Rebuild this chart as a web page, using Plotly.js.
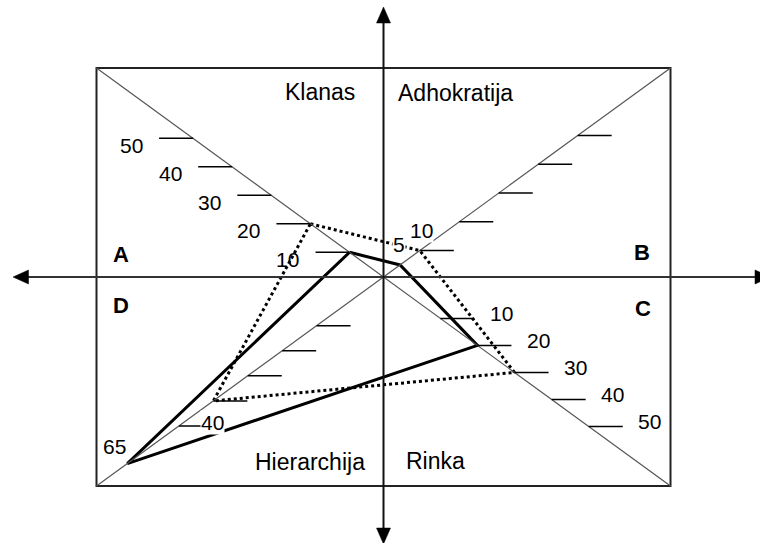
<!DOCTYPE html>
<html>
<head>
<meta charset="utf-8">
<script src="https://cdn.plot.ly/plotly-3.0.1.min.js"></script>
<style>
  html, body { margin: 0; padding: 0; background: #fff; }
  #chart { width: 760px; height: 543px; }
</style>
</head>
<body>
<div id="chart"></div>
<script>
// Organisational culture profile on the competing-values frame:
// each culture type sits on one half-diagonal, two profiles are compared.
const quadrants = ['Klanas', 'Adhokratija', 'Rinka', 'Hierarchija'];
const solidProfile = [10, 5, 20, 65];
const dottedProfile = [20, 10, 30, 40];
const tickValues = [10, 20, 30, 40, 50];
const tickLabels = ['10', '20', '30', '40', '50'];
const cornerLetters = ['A', 'B', 'C', 'D'];

// Frame geometry: one plot unit = one pixel, origin where the two axes cross.
const HW = 287, HH = 209;
// Every half-diagonal has its own scale: position t = start + step * value (t = 1 at the corner).
const diag = {
  'Klanas':      { sx: -1, sy:  1, start: -0.018,  step: 0.01363, tickDir: -1, tickText: true,  labelDx: -62, labelDy: -7 },
  'Adhokratija': { sx:  1, sy:  1, start: -0.011,  step: 0.01375, tickDir:  1, tickText: false },
  'Rinka':       { sx:  1, sy: -1, start:  0.0687, step: 0.01293, tickDir:  1, tickText: true,  labelDx: 61,  labelDy: 5 },
  'Hierarchija': { sx: -1, sy: -1, start:  0.1133, step: 0.01199, tickDir:  1, tickText: false }
};
function onDiag(q, v) {
  const d = diag[q];
  const t = d.start + d.step * v;
  return [d.sx * HW * t, d.sy * HH * t];
}

const FONT = 'Liberation Sans, Arial, sans-serif';
const shapes = [];
const annotations = [];

// outer frame and the two diagonals
shapes.push({ type: 'rect', xref: 'x', yref: 'y', x0: -HW, x1: HW, y0: -HH, y1: HH,
  line: { color: '#222', width: 2 } });
shapes.push({ type: 'line', xref: 'x', yref: 'y', x0: -HW, y0: HH, x1: HW, y1: -HH,
  line: { color: '#555', width: 1.2 } });
shapes.push({ type: 'line', xref: 'x', yref: 'y', x0: -HW, y0: -HH, x1: HW, y1: HH,
  line: { color: '#555', width: 1.2 } });

// main axes with arrowheads
shapes.push({ type: 'line', xref: 'x', yref: 'y', x0: -358, y0: 0, x1: 380, y1: 0,
  line: { color: '#333', width: 2 } });
shapes.push({ type: 'line', xref: 'x', yref: 'y', x0: 0, y0: -255, x1: 0, y1: 256,
  line: { color: '#111', width: 2 } });
const arrowHeads = [
  'M -370.5,0 L -355,-7 L -355,7 Z',
  'M 387,0 L 371.5,-7 L 371.5,7 Z',
  'M 0,270 L -7,254 L 7,254 Z',
  'M 0,-267 L -7,-251 L 7,-251 Z'
];
arrowHeads.forEach(p => shapes.push({ type: 'path', xref: 'x', yref: 'y', path: p,
  fillcolor: '#000', line: { color: '#000', width: 0.5 } }));

// scale ticks along each half-diagonal
const TICK_LEN = 34;
quadrants.forEach(q => {
  const d = diag[q];
  tickValues.forEach((v, i) => {
    const [x, y] = onDiag(q, v);
    shapes.push({ type: 'line', xref: 'x', yref: 'y', x0: x, y0: y, x1: x + d.tickDir * TICK_LEN, y1: y,
      line: { color: '#000', width: 1.5 } });
    if (d.tickText) {
      annotations.push({ xref: 'x', yref: 'y', x: x, y: y, xshift: d.labelDx, yshift: d.labelDy,
        text: tickLabels[i], showarrow: false, xanchor: 'center', yanchor: 'middle',
        font: { family: FONT, size: 21, color: '#000' } });
    }
  });
});

// the two profiles as closed polygons
function profileTrace(values, dash) {
  const xs = [], ys = [];
  quadrants.forEach((q, i) => { const p = onDiag(q, values[i]); xs.push(p[0]); ys.push(p[1]); });
  xs.push(xs[0]); ys.push(ys[0]);
  return { type: 'scatter', mode: 'lines', x: xs, y: ys, hoverinfo: 'skip',
    line: { color: '#000', width: 3, dash: dash } };
}
const traces = [profileTrace(solidProfile, 'solid'), profileTrace(dottedProfile, 'dot')];

// value labels next to some profile corners (white boxes hide the lines beneath)
function valueLabel(values, idx, dx, dy) {
  const [x, y] = onDiag(quadrants[idx], values[idx]);
  annotations.push({ xref: 'x', yref: 'y', x: x, y: y, xshift: dx, yshift: dy,
    text: String(values[idx]), showarrow: false, xanchor: 'center', yanchor: 'middle',
    bgcolor: '#fff', borderpad: 0,
    font: { family: FONT, size: 21, color: '#000' } });
}
valueLabel(solidProfile, 1, -1, 20);
valueLabel(dottedProfile, 1, 2, 20);
valueLabel(dottedProfile, 3, -1, -22);
valueLabel(solidProfile, 3, -13, 17);

// culture type names inside the frame
const namePos = { 'Klanas': [-63.5, 185], 'Adhokratija': [71.5, 184],
                  'Rinka': [51.5, -184], 'Hierarchija': [-73.5, -185] };
quadrants.forEach(q => annotations.push({ xref: 'x', yref: 'y', x: namePos[q][0], y: namePos[q][1],
  text: q, showarrow: false, xanchor: 'center', yanchor: 'middle',
  font: { family: FONT, size: 23, color: '#000' } }));

// corner letters beside the horizontal axis
const letterPos = [[-262.5, 23], [258.5, 25], [259.5, -31], [-262.5, -28]];
cornerLetters.forEach((c, i) => annotations.push({ xref: 'x', yref: 'y',
  x: letterPos[i][0], y: letterPos[i][1], text: '<b>' + c + '</b>', showarrow: false,
  xanchor: 'center', yanchor: 'middle', font: { family: FONT, size: 22, color: '#000' } }));

const layout = {
  width: 760, height: 543,
  margin: { l: 0, r: 0, t: 0, b: 0, pad: 0 },
  paper_bgcolor: '#fff', plot_bgcolor: '#fff',
  showlegend: false,
  xaxis: { range: [-383.5, 376.5], visible: false, fixedrange: true },
  yaxis: { range: [-266, 277], visible: false, fixedrange: true },
  shapes: shapes,
  annotations: annotations
};

Plotly.newPlot('chart', traces, layout, { displayModeBar: false, staticPlot: true });
</script>
</body>
</html>
